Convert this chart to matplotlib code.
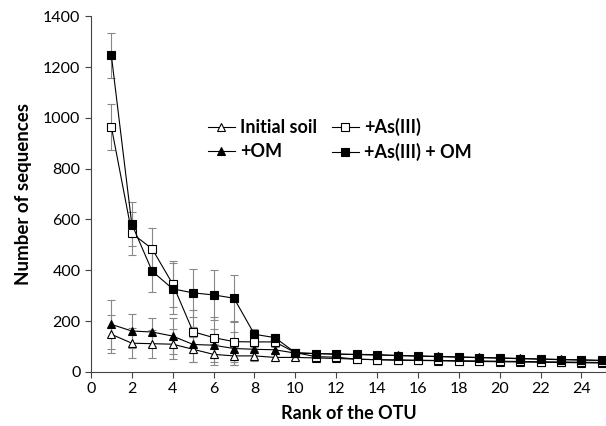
import matplotlib.pyplot as plt
import numpy as np

rank = np.arange(1, 26)

initial_soil = [148, 113, 111, 109, 89, 69, 63, 63, 57, 57,
                55, 53, 50, 48, 46, 45, 44, 42, 41, 40, 39, 38, 37, 36, 35]
as3 = [965, 546, 484, 346, 158, 135, 119, 118, 118, 76,
       60, 58, 50, 48, 47, 46, 45, 44, 43, 42, 41, 40, 39, 38, 37]
om = [187, 161, 157, 141, 108, 105, 92, 89, 87, 74,
      72, 70, 68, 66, 65, 63, 61, 59, 57, 55, 53, 51, 49, 47, 45]
as3_om = [1246, 582, 396, 327, 311, 303, 290, 148, 135, 76,
          72, 70, 69, 68, 64, 62, 60, 58, 56, 54, 52, 50, 48, 47, 45]

err_initial = [75, 60, 55, 60, 50, 40, 35, 20, 15, 10] + [6] * 15
err_as3 = [90, 85, 82, 90, 85, 80, 80, 20, 15, 10] + [6] * 15
err_om = [95, 65, 55, 70, 70, 65, 65, 15, 12, 10] + [6] * 15
err_as3_om = [88, 85, 82, 100, 95, 100, 92, 20, 15, 10] + [6] * 15

fig = plt.figure(figsize=(6.06, 4.26), dpi=100)
ax = fig.add_axes([0.150, 0.127, 0.850, 0.835])

series = [
    (initial_soil, err_initial, '^', 'white', 'Initial soil'),
    (om, err_om, '^', 'black', '+OM'),
    (as3, err_as3, 's', 'white', '+As(III)'),
    (as3_om, err_as3_om, 's', 'black', '+As(III) + OM'),
]
for vals, err, m, fc, lab in series:
    ax.errorbar(rank, vals, yerr=err, fmt='none', ecolor='#888888',
                elinewidth=0.8, capsize=3, capthick=0.8, zorder=1)
    ax.plot(rank, vals, marker=m, color='black', markerfacecolor=fc,
            markeredgecolor='black', markersize=5.5, linewidth=0.8,
            markeredgewidth=0.8, label=lab, zorder=2)

ax.set_xlim(0, 25.2)
ax.set_ylim(0, 1400)
ax.set_xticks(np.arange(0, 25, 2))
ax.set_yticks(np.arange(0, 1401, 200))
ax.spines['top'].set_visible(False)
ax.spines['right'].set_visible(False)
ax.spines['left'].set_color('#444444')
ax.spines['bottom'].set_color('#444444')
ax.tick_params(direction='out', length=4, labelsize=11.5, color='#444444')
for t in ax.get_xticklabels() + ax.get_yticklabels():
    t.set_family('Lato')

ax.set_xlabel('Rank of the OTU', fontsize=13, fontweight='bold', family='Lato',
              labelpad=6)
ax.set_ylabel('Number of sequences', fontsize=13.5, fontweight='bold', family='Lato',
              labelpad=8)

ax.legend(ncol=2, frameon=False, loc='center', bbox_to_anchor=(0.483, 0.653),
          prop={'family': 'Lato', 'weight': 'bold', 'size': 13},
          handlelength=1.5, columnspacing=0.8, handletextpad=0.3, labelspacing=0.4)

fig.savefig('out.png', dpi=100)
